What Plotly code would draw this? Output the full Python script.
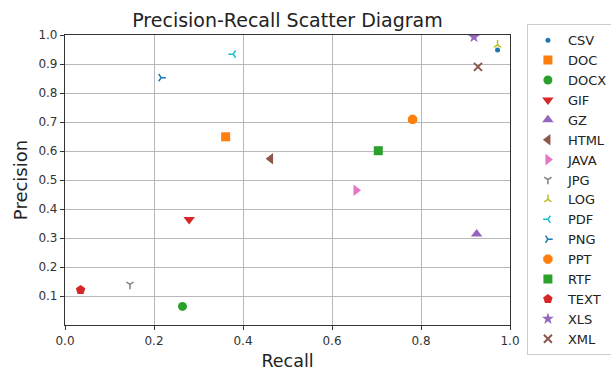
import plotly.graph_objects as go

names = ["CSV", "DOC", "DOCX", "GIF", "GZ", "HTML", "JAVA", "JPG", "LOG", "PDF",
         "PNG", "PPT", "RTF", "TEXT", "XLS", "XML"]
recall = [0.972, 0.361, 0.264, 0.279, 0.925, 0.462, 0.654, 0.146, 0.972, 0.378,
          0.216, 0.781, 0.704, 0.035, 0.919, 0.928]
precision = [0.948, 0.649, 0.064, 0.364, 0.314, 0.573, 0.465, 0.140, 0.966, 0.934,
             0.853, 0.709, 0.601, 0.121, 0.993, 0.890]
colors = ["#1f77b4", "#ff7f0e", "#2ca02c", "#d62728", "#9467bd", "#8c564b", "#e377c2",
          "#7f7f7f", "#bcbd22", "#17becf", "#1f77b4", "#ff7f0e", "#2ca02c", "#d62728",
          "#9467bd", "#8c564b"]
symbols = ["circle", "square", "circle", "triangle-down", "triangle-up", "triangle-left",
           "triangle-right", "y-down", "y-up", "y-left", "y-right", "octagon", "square",
           "pentagon", "star", "x-thin"]
sizes = [5, 9, 9, 10, 10, 10, 10, 6, 6, 6, 6, 10, 9, 10, 9, 8]
line_symbols = {"y-down", "y-up", "y-left", "y-right", "x-thin"}

fig = go.Figure()
for n, x, y, c, s, sz in zip(names, recall, precision, colors, symbols, sizes):
    if s in line_symbols:
        marker = dict(symbol=s, size=sz, color=c, line=dict(color=c, width=1.5 if s != "x-thin" else 2))
    else:
        marker = dict(symbol=s, size=sz, color=c, line=dict(width=0))
    fig.add_trace(go.Scatter(x=[x], y=[y], mode="markers", name=n, marker=marker))

axis_common = dict(
    showline=True, mirror=True, linecolor="#333333", linewidth=1.2,
    ticks="outside", ticklen=4, tickwidth=1, tickcolor="#333333",
    showgrid=True, gridcolor="#b8b8b8", gridwidth=1, zeroline=False,
    tickfont=dict(family="DejaVu Sans", size=12, color="#333333"),
)

fig.update_layout(
    width=611, height=372,
    margin=dict(l=65, r=101, t=35, b=47, autoexpand=False),
    paper_bgcolor="white", plot_bgcolor="white",
    font=dict(family="DejaVu Sans", color="#222222"),
    title=dict(text="Precision-Recall Scatter Diagram", x=(65 + 510) / 2 / 611, xanchor="center",
               y=1 - 20 / 372, yanchor="middle", font=dict(size=19, color="#222222")),
    xaxis=dict(range=[0, 1], tickvals=[0, 0.2, 0.4, 0.6, 0.8, 1.0], tickformat=".1f",
               title=dict(text="Recall", font=dict(size=17.5), standoff=8), **axis_common),
    yaxis=dict(range=[0, 1], tickvals=[0.1, 0.2, 0.3, 0.4, 0.5, 0.6, 0.7, 0.8, 0.9, 1.0],
               tickformat=".1f",
               title=dict(text="Precision", font=dict(size=18), standoff=6), **axis_common),
    legend=dict(x=1.038, y=1.037, xanchor="left", yanchor="top",
                bordercolor="#cccccc", borderwidth=1, bgcolor="white",
                font=dict(family="DejaVu Sans", size=13, color="#222222"),
                itemsizing="trace", maxheight=360),
)

fig.write_html("out.html", config={"displayModeBar": False},
               post_script="document.body.style.margin='0';document.body.style.overflow='hidden';")
